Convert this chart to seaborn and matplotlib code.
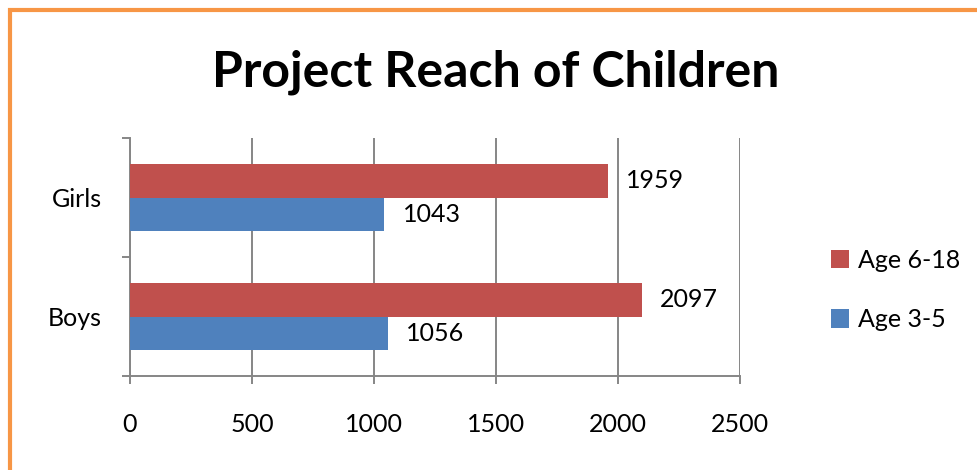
import pandas as pd
import matplotlib.pyplot as plt
import seaborn as sns
from matplotlib.patches import Rectangle
from matplotlib.ticker import FixedLocator

# Chart values
groups = ['Girls', 'Boys']
ages = ['Age 6-18', 'Age 3-5']
age_6_18 = [1959, 2097]
age_3_5 = [1043, 1056]
x_ticks = [0, 500, 1000, 1500, 2000, 2500]

data = pd.DataFrame({
    'group': groups * 2,
    'age': [ages[0]] * 2 + [ages[1]] * 2,
    'count': age_6_18 + age_3_5,
})

sns.set_style('white')
plt.rcParams['font.family'] = ['Lato', 'DejaVu Sans']
plt.rcParams['text.color'] = 'black'
plt.rcParams['xtick.labelcolor'] = 'black'
plt.rcParams['ytick.labelcolor'] = 'black'

fig = plt.figure(figsize=(9.78, 4.70), dpi=100)
ax = fig.add_axes([130 / 978, 1 - 376 / 470, 610 / 978, 238 / 470])

palette = {'Age 6-18': '#C0504D', 'Age 3-5': '#4F81BD'}
sns.barplot(data=data, y='group', x='count', hue='age', order=groups,
            hue_order=ages, palette=palette, orient='h', width=0.56,
            saturation=1, linewidth=0, edgecolor='none', ax=ax, zorder=3)

for cont in ax.containers:
    ax.bar_label(cont, fmt='%d', padding=13, fontsize=18, color='black')

grid_col = '#868686'
ax.set_xlim(0, 2500)
ax.set_ylim(1.5, -0.5)
ax.set_xticks(x_ticks)
ax.set_xticklabels([str(t) for t in x_ticks])
ax.grid(axis='x', color=grid_col, linewidth=1.4, zorder=0)
ax.set_xlabel('')
ax.set_ylabel('')

for s in ['top', 'right']:
    ax.spines[s].set_visible(False)
for s in ['left', 'bottom']:
    ax.spines[s].set_color(grid_col)
    ax.spines[s].set_linewidth(1.4)

ax.tick_params(axis='x', bottom=True, length=6, width=1.4, color=grid_col,
               pad=21, labelsize=18)
ax.tick_params(axis='y', which='major', length=0, pad=20, labelsize=18)
ax.yaxis.set_minor_locator(FixedLocator([-0.5, 0.5, 1.5]))
ax.tick_params(axis='y', which='minor', left=True, length=6, width=1.4,
               color=grid_col)

handles, labels = ax.get_legend_handles_labels()
ax.legend(handles, labels, loc='center left', bbox_to_anchor=(808 / 978, 1 - 290 / 470),
          bbox_transform=fig.transFigure, frameon=False, fontsize=18,
          handlelength=0.75, handleheight=0.75, handletextpad=0.35,
          labelspacing=1.45)

fig.text(0.507, 1 - 72 / 470, 'Project Reach of Children', ha='center',
         va='center', fontsize=36, fontweight='bold', color='black')

# orange frame around the chart
fig.patches.append(Rectangle((9.5 / 978, -0.1), 1.2, 1.1 - 10.5 / 470,
                             transform=fig.transFigure, fill=False,
                             edgecolor='#F79646', linewidth=3))

fig.savefig('out.png', dpi=100)
